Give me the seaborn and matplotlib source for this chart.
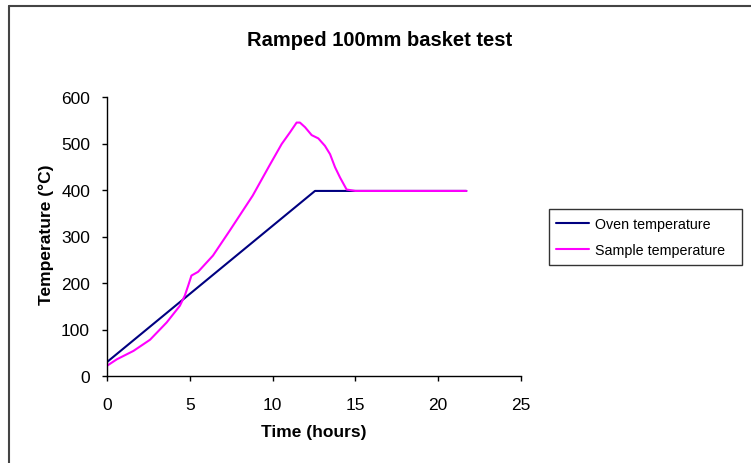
import numpy as np
import pandas as pd
import seaborn as sns
import matplotlib.pyplot as plt
from matplotlib.lines import Line2D

# Oven temperature (hours, degC)
oven_time = [0, 12.56, 13.0, 15.0, 17.0, 19.0, 21.7]
oven_temp = [30, 398, 398, 398, 398, 398, 398]

# Sample temperature (hours, degC)
sample_time = [0, 0.6, 1.6, 2.6, 3.6, 4.4, 4.7, 4.9, 5.1, 5.5, 6.4, 7.4, 8.8,
               9.8, 10.55, 11.05, 11.45, 11.65, 11.96, 12.36, 12.76, 13.16,
               13.47, 13.77, 14.07, 14.47, 15.0, 17.0, 19.0, 21.7]
sample_temp = [22, 36, 54, 78, 115, 151, 173, 194, 216, 224, 259, 312, 388,
               452, 499, 524, 545, 545, 535, 518, 511, 495,
               477, 449, 427, 401, 398, 398, 398, 398]

df = pd.concat([
    pd.DataFrame({'Time': oven_time, 'Temp': oven_temp, 'Series': 'Oven temperature'}),
    pd.DataFrame({'Time': sample_time, 'Temp': sample_temp, 'Series': 'Sample temperature'}),
])

sns.set_style('white')
plt.rcParams['font.family'] = ['Liberation Sans', 'DejaVu Sans']
plt.rcParams['text.color'] = 'black'
plt.rcParams['axes.labelcolor'] = 'black'
plt.rcParams['xtick.color'] = 'black'
plt.rcParams['ytick.color'] = 'black'

fig = plt.figure(figsize=(7.51, 4.64), dpi=100)
ax = fig.add_axes([107 / 751, 1 - 377 / 464, 414 / 751, 279 / 464])

sns.lineplot(data=df, x='Time', y='Temp', hue='Series', sort=False,
             palette={'Oven temperature': '#000080', 'Sample temperature': '#FF00FF'},
             linewidth=1.5, ax=ax)

ax.set_xlim(0, 25)
ax.set_ylim(0, 600)
ax.set_xticks(range(0, 26, 5))
ax.set_yticks(range(0, 601, 100))
ax.tick_params(direction='out', length=3.6, width=1, labelsize=12.5,
               bottom=True, left=True)
ax.tick_params(axis='x', pad=11.5)
ax.tick_params(axis='y', pad=8.6)
for s in ['top', 'right']:
    ax.spines[s].set_visible(False)
for s in ['left', 'bottom']:
    ax.spines[s].set_color('black')
    ax.spines[s].set_linewidth(1)

ax.set_xlabel('Time (hours)', fontsize=12.5, fontweight='bold')
ax.set_ylabel('Temperature (°C)', fontsize=12.5, fontweight='bold')
ax.xaxis.label.set_va('center')
ax.yaxis.label.set_va('center')
ax.xaxis.set_label_coords(0.5, (377 - 433) / 279)
ax.yaxis.set_label_coords((46 - 107) / 414, (377 - 235) / 279)

fig.text(380 / 751, 1 - 40 / 464, 'Ramped 100mm basket test', ha='center', va='center',
         fontsize=14.5, fontweight='bold')

# legend box sits right of the plot, same as the Excel original
leg = ax.legend(loc='center', bbox_to_anchor=(549 / 751, 1 - 265 / 464, 193 / 751, 54 / 464),
                bbox_transform=fig.transFigure, mode='expand', borderaxespad=0,
                frameon=True, fancybox=False, fontsize=10.3, handlelength=2.3,
                handletextpad=0.45, labelspacing=0.9, borderpad=0.5)
leg.get_frame().set_edgecolor('black')
leg.get_frame().set_linewidth(1)
leg.set_title(None)

# chart area border (top and left visible)
fig.add_artist(Line2D([9 / 751, 1], [1 - 7 / 464, 1 - 7 / 464], color='#444444', lw=1.5))
fig.add_artist(Line2D([9 / 751, 9 / 751], [0, 1 - 7 / 464], color='#444444', lw=1.5))

fig.savefig('out.png', dpi=100)
